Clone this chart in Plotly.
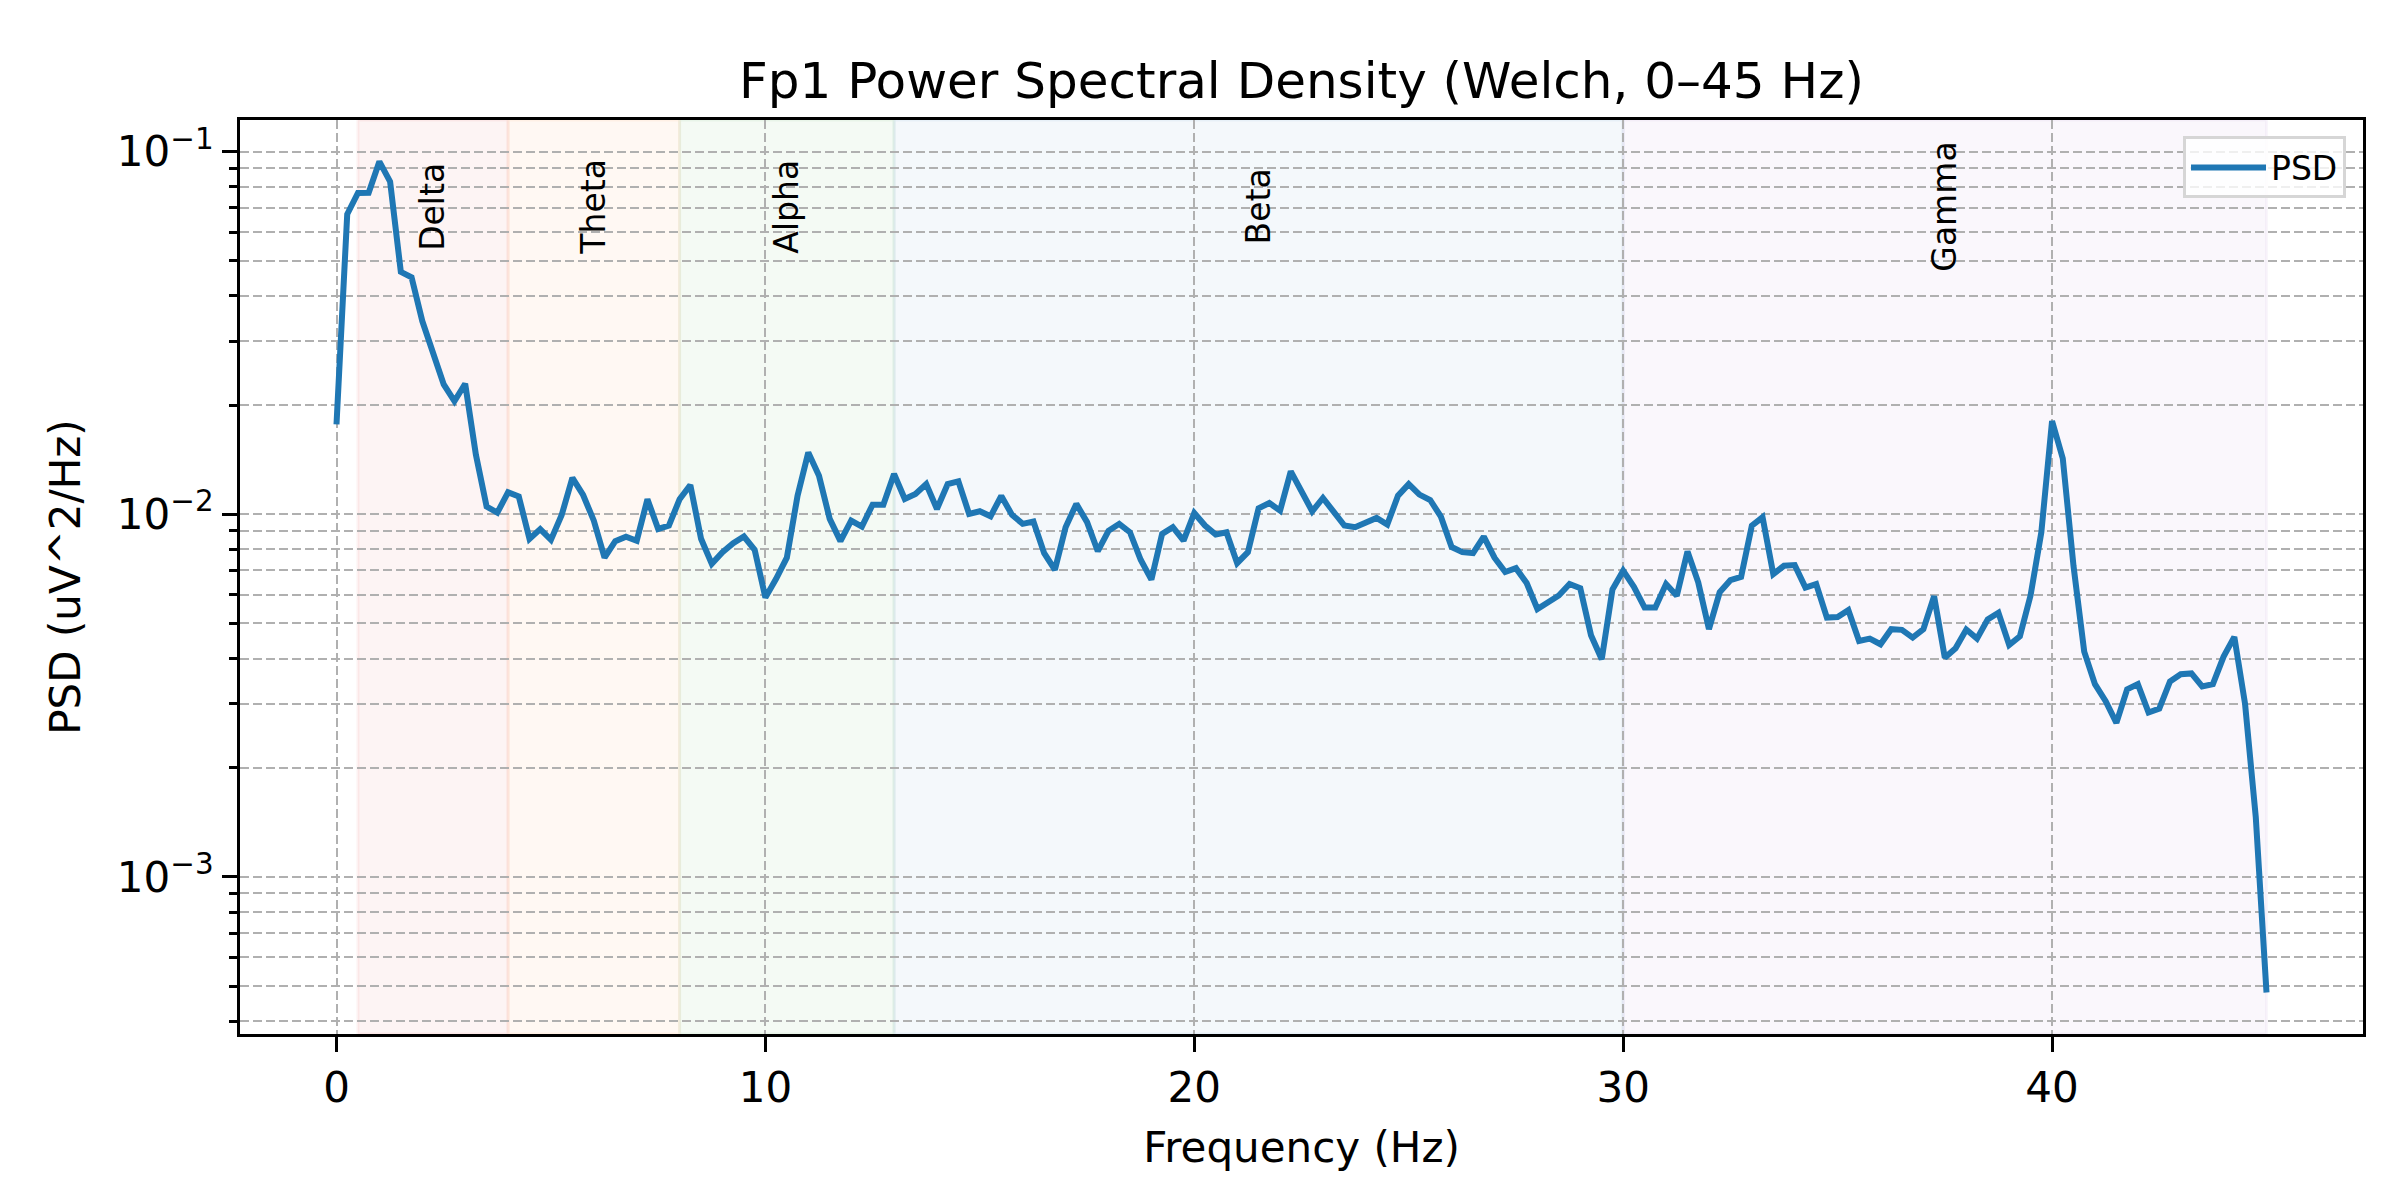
import math
import plotly.graph_objects as go

# frequency bins (Hz) and Welch PSD values
freqs = [
    0.0, 0.25, 0.5, 0.75, 1.0, 1.25, 1.5, 1.75,
    2.0, 2.25, 2.5, 2.75, 3.0, 3.25, 3.5, 3.75,
    4.0, 4.25, 4.5, 4.75, 5.0, 5.25, 5.5, 5.75,
    6.0, 6.25, 6.5, 6.75, 7.0, 7.25, 7.5, 7.75,
    8.0, 8.25, 8.5, 8.75, 9.0, 9.25, 9.5, 9.75,
    10.0, 10.25, 10.5, 10.75, 11.0, 11.25, 11.5, 11.75,
    12.0, 12.25, 12.5, 12.75, 13.0, 13.25, 13.5, 13.75,
    14.0, 14.25, 14.5, 14.75, 15.0, 15.25, 15.5, 15.75,
    16.0, 16.25, 16.5, 16.75, 17.0, 17.25, 17.5, 17.75,
    18.0, 18.25, 18.5, 18.75, 19.0, 19.25, 19.5, 19.75,
    20.0, 20.25, 20.5, 20.75, 21.0, 21.25, 21.5, 21.75,
    22.0, 22.25, 22.5, 22.75, 23.0, 23.25, 23.5, 23.75,
    24.0, 24.25, 24.5, 24.75, 25.0, 25.25, 25.5, 25.75,
    26.0, 26.25, 26.5, 26.75, 27.0, 27.25, 27.5, 27.75,
    28.0, 28.25, 28.5, 28.75, 29.0, 29.25, 29.5, 29.75,
    30.0, 30.25, 30.5, 30.75, 31.0, 31.25, 31.5, 31.75,
    32.0, 32.25, 32.5, 32.75, 33.0, 33.25, 33.5, 33.75,
    34.0, 34.25, 34.5, 34.75, 35.0, 35.25, 35.5, 35.75,
    36.0, 36.25, 36.5, 36.75, 37.0, 37.25, 37.5, 37.75,
    38.0, 38.25, 38.5, 38.75, 39.0, 39.25, 39.5, 39.75,
    40.0, 40.25, 40.5, 40.75, 41.0, 41.25, 41.5, 41.75,
    42.0, 42.25, 42.5, 42.75, 43.0, 43.25, 43.5, 43.75,
    44.0, 44.25, 44.5, 44.75, 45.0,
]

psd = [
    0.0177, 0.0672, 0.0769, 0.0770, 0.0939, 0.0827, 0.0466, 0.0450,
    0.0341, 0.0278, 0.0228, 0.0205, 0.0229, 0.0146, 0.0105, 0.0101,
    0.0115, 0.0112, 0.00855, 0.0091, 0.0085, 0.00995, 0.0126, 0.0113,
    0.0096, 0.00759, 0.00843, 0.00867, 0.00845, 0.0110, 0.00911, 0.00931,
    0.0110, 0.01204, 0.00856, 0.0073, 0.00786, 0.00832, 0.00868, 0.00798,
    0.00589, 0.00664, 0.00759, 0.01125, 0.0148, 0.01277, 0.00971, 0.00843,
    0.00961, 0.00925, 0.01063, 0.01063, 0.01291, 0.01102, 0.01137, 0.01211,
    0.01034, 0.01211, 0.01232, 0.01002, 0.01019, 0.00987, 0.01123, 0.00996,
    0.00941, 0.00955, 0.00781, 0.00703, 0.00921, 0.01068, 0.00951, 0.00791,
    0.0090, 0.00941, 0.00892, 0.00749, 0.0066, 0.00883, 0.00921, 0.00846,
    0.01008, 0.00931, 0.00879, 0.00892, 0.00733, 0.00786, 0.01039, 0.01074,
    0.01023, 0.01313, 0.01161, 0.01019, 0.01109, 0.01023, 0.00931, 0.00921,
    0.00945, 0.00977, 0.00937, 0.01125, 0.01211, 0.01133, 0.01095, 0.00985,
    0.00812, 0.00786, 0.00781, 0.00868, 0.00759, 0.00693, 0.0071, 0.00646,
    0.00548, 0.0057, 0.00597, 0.00642, 0.00625, 0.00464, 0.00398, 0.0062,
    0.00699, 0.00631, 0.00553, 0.00553, 0.00642, 0.00596, 0.0079, 0.00649,
    0.00482, 0.00609, 0.00658, 0.00672, 0.0093, 0.00981, 0.00684, 0.00721,
    0.00724, 0.00628, 0.00642, 0.00519, 0.00521, 0.00544, 0.00447, 0.00454,
    0.00438, 0.00482, 0.0048, 0.00457, 0.00482, 0.00594, 0.00402, 0.00427,
    0.00481, 0.00454, 0.00513, 0.00535, 0.00436, 0.00461, 0.00598, 0.00892,
    0.01808, 0.01425, 0.0072, 0.00418, 0.0034, 0.00305, 0.00266, 0.00329,
    0.0034, 0.00284, 0.00291, 0.00346, 0.00362, 0.00364, 0.00335, 0.0034,
    0.00405, 0.00459, 0.0030, 0.00146, 0.00048,
]

# EEG bands
band_names = ["Delta", "Theta", "Alpha", "Beta", "Gamma"]
band_lo = [0.5, 4, 8, 13, 30]
band_hi = [4, 8, 13, 30, 45]
band_rgb = ["214,39,40", "255,127,14", "44,160,44", "31,119,180", "148,103,189"]

x_ticks = [0, 10, 20, 30, 40]
y_ticks = [1e-3, 1e-2, 1e-1]
y_ticktext = ["10<sup>\u22123</sup>", "10<sup>\u22122</sup>", "10<sup>\u22121</sup>"]
y_minor = [m * 10.0 ** e for e in (-4, -3, -2) for m in range(2, 10)]

FONT = "DejaVu Sans"

fig = go.Figure()

fig.add_trace(go.Scatter(
    x=freqs, y=psd, mode="lines", name="PSD",
    line=dict(color="#1f77b4", width=6),
))

# shaded bands and their labels
label_y = math.log10(max(psd) * 0.75)
for name, lo, hi, rgb in zip(band_names, band_lo, band_hi, band_rgb):
    fig.add_vrect(
        x0=lo, x1=hi, layer="below",
        fillcolor=f"rgba({rgb},0.05)",
        line=dict(color=f"rgba({rgb},0.06)", width=3),
    )
    fig.add_annotation(
        x=(lo + hi) / 2, y=label_y, xref="x", yref="y",
        text=name, textangle=-90, showarrow=False,
        font=dict(family=FONT, size=33, color="black"),
        xanchor="center", yanchor="middle",
    )

# matplotlib-like autoscale margins
xpad = 0.05 * (max(freqs) - min(freqs))
ylo, yhi = math.log10(min(psd)), math.log10(max(psd))
ypad = 0.05 * (yhi - ylo)

grid = dict(showgrid=True, gridcolor="#b0b0b0", gridwidth=2, griddash="9px,4px")

fig.update_xaxes(
    range=[min(freqs) - xpad, max(freqs) + xpad],
    tickvals=x_ticks, ticks="outside", ticklen=15, tickwidth=3, tickcolor="black",
    showline=True, linecolor="black", linewidth=3, mirror=True,
    zeroline=False,
    tickfont=dict(family=FONT, size=42, color="black"),
    title=dict(text="Frequency (Hz)", font=dict(family=FONT, size=42, color="black"), standoff=22),
    **grid,
)
fig.update_yaxes(
    type="log",
    range=[ylo - ypad, yhi + ypad],
    tickvals=y_ticks, ticktext=y_ticktext,
    ticks="outside", ticklen=15, tickwidth=3, tickcolor="black",
    minor=dict(tickvals=y_minor, ticks="outside", ticklen=8, tickwidth=2.5,
               tickcolor="black", showgrid=True, gridcolor="#b0b0b0",
               gridwidth=2, griddash="9px,4px"),
    showline=True, linecolor="black", linewidth=3, mirror=True,
    zeroline=False,
    tickfont=dict(family=FONT, size=42, color="black"),
    title=dict(text="PSD (uV^2/Hz)", font=dict(family=FONT, size=42, color="black"), standoff=24),
    **grid,
)

fig.update_layout(
    width=2400, height=1200,
    margin=dict(l=232, r=45, t=112, b=174),
    paper_bgcolor="white", plot_bgcolor="white",
    title=dict(
        text="Fp1 Power Spectral Density (Welch, 0\u201345 Hz)",
        x=0.5, xref="paper", y=1 - 72 / 1200, yanchor="middle",
        font=dict(family=FONT, size=50, color="black"),
    ),
    showlegend=True,
    legend=dict(
        x=0.992, y=0.982, xanchor="right", yanchor="top",
        itemwidth=75,
        bgcolor="rgba(255,255,255,0.8)", bordercolor="#d6d6d6", borderwidth=3,
        font=dict(family=FONT, size=33, color="black"),
    ),
)

fig.write_html("out.html")
